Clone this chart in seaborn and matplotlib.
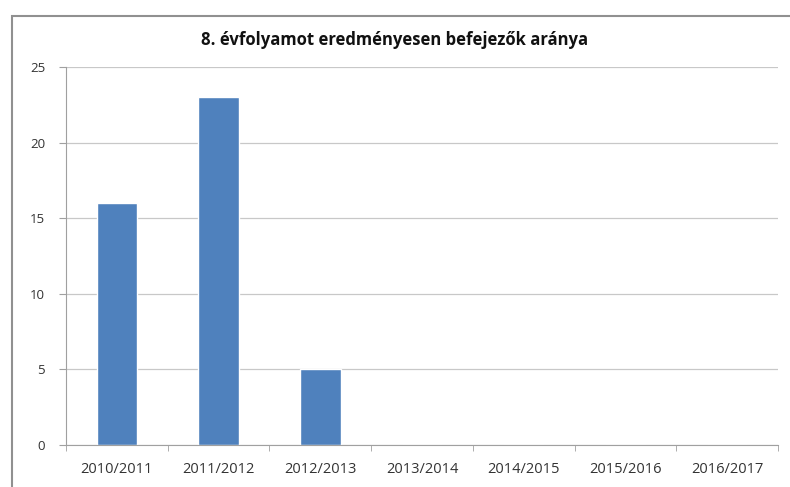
import matplotlib
matplotlib.use("Agg")
import matplotlib.pyplot as plt
import seaborn as sns
import pandas as pd
from matplotlib.patches import Rectangle

years = ["2010/2011", "2011/2012", "2012/2013", "2013/2014", "2014/2015", "2015/2016", "2016/2017"]
values = [16, 23, 5, 0, 0, 0, 0]
title = "8. évfolyamot eredményesen befejezők aránya"

df = pd.DataFrame({"year": years, "value": values})

sns.set_style("white")
plt.rcParams["font.family"] = ["Open Sans", "DejaVu Sans"]

fig = plt.figure(figsize=(7.9, 4.87), dpi=100)
ax = fig.add_axes([66 / 790, 1 - 445 / 487, (778 - 66) / 790, (445 - 67) / 487])

sns.barplot(data=df, x="year", y="value", color="#4F81BD", saturation=1, width=0.4, ax=ax)

ax.set_ylim(0, 25)
ax.set_yticks([0, 5, 10, 15, 20, 25])
ax.set_xlim(-0.5, len(years) - 0.5)
ax.set_xlabel("")
ax.set_ylabel("")
ax.yaxis.grid(True, color="#c8c8c8", linewidth=0.9)
ax.set_axisbelow(True)
for s in ["top", "right"]:
    ax.spines[s].set_visible(False)
ax.spines["left"].set_color("#a0a0a0")
ax.spines["bottom"].set_color("#a0a0a0")
ax.tick_params(axis="y", left=True, length=5, color="#a0a0a0", labelsize=9.5, labelcolor="#333333", pad=10)
ax.tick_params(axis="x", bottom=False, labelsize=10.5, labelcolor="#333333", pad=9)
# minor ticks at category boundaries
ax.set_xticks([i - 0.5 for i in range(len(years) + 1)], minor=True)
ax.tick_params(axis="x", which="minor", bottom=True, length=4, color="#a0a0a0")

fig.text(0.5, 1 - 40 / 487, title, ha="center", va="center", fontsize=12, fontweight="bold", color="#111111")

# outer chart frame
fig.patches.append(Rectangle((12 / 790, -0.1), 1.0, 1.1 - 16 / 487, transform=fig.transFigure,
                             fill=False, edgecolor="#909090", linewidth=1.5))

fig.savefig("out.png", dpi=100)
